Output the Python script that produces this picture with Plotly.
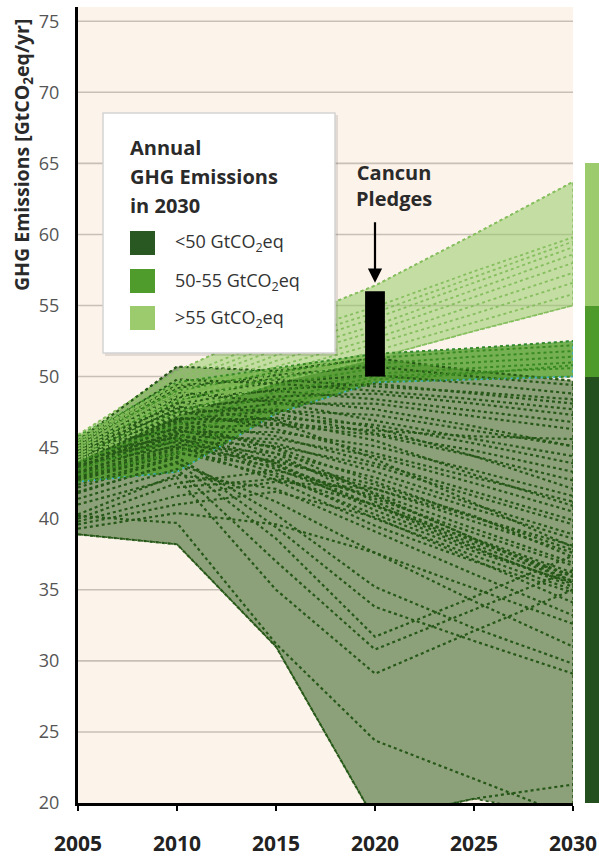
import numpy as np
import plotly.graph_objects as go

# ---------------------------------------------------------------------------
# Data
# ---------------------------------------------------------------------------
YEARS = [2005, 2010, 2015, 2020, 2025, 2030]

# Scenario pathways (GtCO2eq/yr), grouped by their emission level in 2030
LOW_SCENARIOS = [      # < 50 GtCO2eq in 2030
    [45.5, 50.7, 50.4, 51.3, 50.4, 49.7],
    [45.3, 49.2, 50.1, 50.7, 50.0, 49.4],
    [45.1, 48.6, 49.6, 50.1, 49.5, 48.8],
    [44.9, 48.1, 49.1, 49.5, 48.8, 48.1],
    [44.7, 47.7, 48.6, 48.8, 48.1, 47.3],
    [44.5, 47.3, 48.1, 48.1, 47.2, 46.3],
    [44.3, 47.0, 47.6, 47.3, 46.2, 45.1],
    [44.1, 46.7, 47.1, 46.6, 45.3, 43.9],
    [43.9, 46.4, 46.6, 45.9, 44.4, 42.7],
    [43.7, 46.1, 46.1, 45.1, 43.4, 41.6],
    [43.5, 45.8, 45.6, 44.4, 42.5, 40.5],
    [43.3, 45.5, 45.1, 43.7, 41.6, 39.6],
    [43.1, 45.2, 44.6, 42.9, 40.7, 38.6],
    [42.9, 44.9, 44.1, 42.1, 39.8, 37.6],
    [42.7, 44.6, 43.7, 41.4, 39.0, 36.7],
    [45.0, 46.3, 44.6, 41.2, 38.4, 35.9],
    [44.6, 45.7, 43.8, 40.6, 37.9, 35.4],
    [44.2, 45.4, 43.2, 40.0, 37.4, 35.0],
    [43.8, 45.1, 42.7, 39.5, 37.0, 34.8],
    [45.2, 47.9, 46.9, 44.2, 41.1, 38.0],
    [45.0, 47.5, 47.7, 46.4, 44.4, 42.1],
    [44.8, 47.0, 47.0, 45.5, 43.1, 40.9],
    [44.4, 47.8, 48.4, 47.7, 46.5, 45.1],
    [43.6, 46.2, 45.3, 43.3, 41.0, 38.9],
    [43.0, 45.0, 44.0, 42.4, 40.2, 37.3],
    [44.0, 48.5, 49.0, 48.4, 47.6, 46.8],
    [45.4, 49.8, 49.5, 49.0, 48.4, 47.7],
    [45.1, 48.9, 48.2, 46.9, 45.6, 44.4],
    [44.8, 48.2, 47.4, 46.0, 44.8, 43.3],
    [44.6, 47.6, 46.3, 44.6, 42.9, 41.2],
    [44.2, 46.9, 45.8, 43.9, 41.9, 39.9],
    [43.9, 46.5, 45.0, 42.6, 40.1, 37.8],
    [43.5, 45.9, 44.3, 41.8, 39.3, 36.9],
    [43.2, 45.6, 43.5, 40.9, 38.5, 36.0],
    [44.3, 46.8, 44.9, 41.7, 38.6, 35.6],
    [44.0, 46.0, 43.9, 40.9, 38.0, 35.2],
    [42.8, 44.7, 43.0, 40.3, 37.7, 35.5],
    [45.2, 49.4, 49.8, 49.3, 48.9, 48.4],
    [44.7, 47.1, 46.7, 46.2, 45.8, 45.6],
    [39.8, 41.6, 42.6, 42.1, 40.1, 38.1],
    [40.0, 42.5, 43.4, 41.6, 38.6, 36.2],
    [39.6, 41.0, 41.9, 40.1, 37.1, 34.1],
    [40.3, 43.1, 42.1, 39.1, 36.1, 33.2],
    [39.3, 40.4, 39.6, 37.6, 35.1, 32.6],
    [38.9, 38.2, 31.0, 18.8, 20.3, 21.3],
    [40.2, 39.7, 31.2, 24.4, 21.7, 19.0],
    [41.0, 42.9, 35.0, 29.1, 32.1, 35.0],
    [41.4, 43.5, 37.0, 30.8, 33.6, 36.4],
    [41.8, 44.0, 38.6, 31.7, 34.5, 37.4],
    [42.2, 44.3, 40.3, 35.2, 32.3, 29.8],
    [41.9, 43.9, 41.2, 37.6, 34.2, 31.0],
    [42.4, 44.4, 39.4, 33.8, 31.4, 29.1],
    [None, 42.2, 42.8, 41.0, 38.2, 35.6],
]

MID_SCENARIOS = [      # 50-55 GtCO2eq in 2030
    [45.8, 49.6, 50.6, 51.6, 52.0, 52.5],
    [45.4, 49.0, 50.3, 51.3, 51.8, 52.2],
    [45.0, 48.3, 49.9, 50.9, 51.4, 51.8],
    [44.5, 47.5, 49.4, 50.6, 51.0, 51.4],
    [44.0, 46.6, 48.9, 50.2, 50.6, 51.0],
    [43.5, 45.6, 48.4, 50.0, 50.3, 50.6],
    [42.6, 43.3, 47.4, 49.6, 49.8, 50.0],
    [43.1, 44.6, 47.9, 49.8, 50.2, 50.8],
]

HIGH_SCENARIOS = [     # > 55 GtCO2eq in 2030
    [45.9, 50.4, 53.6, 56.4, 60.0, 63.7],
    [45.7, 49.9, 52.7, 54.9, 57.4, 59.8],
    [45.5, 49.6, 52.3, 54.5, 57.0, 59.5],
    [45.3, 49.3, 51.9, 54.1, 56.6, 59.1],
    [45.1, 48.9, 51.5, 53.6, 56.1, 58.6],
    [44.9, 48.6, 51.1, 53.2, 55.6, 58.0],
    [44.7, 48.3, 50.7, 52.7, 55.0, 57.3],
    [44.5, 47.9, 50.3, 52.3, 54.4, 56.6],
    [44.3, 47.6, 49.9, 51.8, 53.8, 55.8],
    [44.1, 47.3, 49.6, 51.3, 53.2, 55.0],
]

# Cancun pledges range for 2020
CANCUN_YEAR = 2020
CANCUN_RANGE = [50.0, 56.0]

# 2030 range bar on the right-hand side (lower, upper bounds per class)
BAND_LOW = [19.2, 50.0, 55.0]
BAND_HIGH = [50.0, 55.0, 65.0]

LEGEND_TITLE = ["Annual", "GHG Emissions", "in 2030"]
BAND_LABELS = ["&lt;50 GtCO<sub>2</sub>eq",
               "50-55 GtCO<sub>2</sub>eq",
               "&gt;55 GtCO<sub>2</sub>eq"]

Y_TICKS = [20, 25, 30, 35, 40, 45, 50, 55, 60, 65, 70, 75]
X_TICKS = [2005, 2010, 2015, 2020, 2025, 2030]

# ---------------------------------------------------------------------------
# Styling
# ---------------------------------------------------------------------------
FONT = "Open Sans"
PEACH = "#FCF3EA"
GRID = "#C8BFB7"

GROUPS = [
    dict(data=LOW_SCENARIOS, fill="#8CA07A", line="#265817", edge="#265817"),
    dict(data=MID_SCENARIOS, fill="rgba(78,158,40,0.78)", line="#3A8A22",
         edge="#3BB2D2"),
    dict(data=HIGH_SCENARIOS, fill="rgba(150,202,104,0.55)", line="#86BF5E",
         edge="#86BF5E"),
]
SWATCH = ["#2A5822", "#4F9C2C", "#9CCB6E"]
BAR = ["#24501F", "#4E9A2A", "#9CCB6E"]

W, H = 599, 858
M_L, M_R, M_T, M_B = 78, 0, 7, 55
PW = W - M_L - M_R
PH = H - M_T - M_B
X_DOMAIN_END = 495 / PW
BAR_DOMAIN = [507 / PW, 1.0]


def px_x(px):
    """Horizontal pixel -> paper coordinate (for overlay decorations)."""
    return (px - M_L) / PW


def px_y(py):
    """Vertical pixel -> paper coordinate (for overlay decorations)."""
    return (H - M_B - py) / PH


fig = go.Figure()

# Envelopes (filled ranges of each class)
for g in GROUPS:
    arr = np.array([[np.nan if v is None else v for v in s] for s in g["data"]])
    hi = np.nanmax(arr, axis=0)
    lo = np.nanmin(arr, axis=0)
    fig.add_trace(go.Scatter(
        x=YEARS + YEARS[::-1],
        y=list(hi) + list(lo[::-1]),
        fill="toself", fillcolor=g["fill"], mode="lines",
        line=dict(color=g["edge"], width=1.6, dash="dot"),
        hoverinfo="skip", showlegend=False,
    ))

# Individual scenario pathways
for g, w in zip(GROUPS, [2.2, 2.0, 1.8]):
    for s in g["data"]:
        fig.add_trace(go.Scatter(
            x=YEARS, y=s, mode="lines",
            line=dict(color=g["line"], width=w, dash="dot"),
            hoverinfo="skip", showlegend=False,
        ))

# 2030 range bar
fig.add_trace(go.Bar(
    x=[0, 0, 0], base=BAND_LOW,
    y=[h - l for h, l in zip(BAND_HIGH, BAND_LOW)],
    marker=dict(color=BAR, line=dict(width=0)), width=1,
    xaxis="x2", yaxis="y", cliponaxis=False,
    hoverinfo="skip", showlegend=False,
))

shapes = []
# plot background
shapes.append(dict(type="rect", xref="x domain", yref="y domain",
                   x0=0, x1=1, y0=0, y1=1, fillcolor=PEACH,
                   line=dict(width=0), layer="below"))
# horizontal grid
for v in Y_TICKS[1:]:
    shapes.append(dict(type="line", xref="x domain", yref="y",
                       x0=0, x1=1, y0=v, y1=v,
                       line=dict(color=GRID, width=1.6), layer="below"))
# Cancun pledges bar
shapes.append(dict(type="rect", xref="x", yref="y",
                   x0=CANCUN_YEAR - 0.5, x1=CANCUN_YEAR + 0.5,
                   y0=CANCUN_RANGE[0], y1=CANCUN_RANGE[1],
                   fillcolor="black", line=dict(width=0), layer="above"))
# legend box (shadow + box)
shapes.append(dict(type="rect", xref="paper", yref="paper",
                   x0=px_x(105), x1=px_x(338), y0=px_y(356), y1=px_y(115),
                   fillcolor="rgba(0,0,0,0.10)", line=dict(width=0),
                   layer="above"))
shapes.append(dict(type="rect", xref="paper", yref="paper",
                   x0=px_x(103), x1=px_x(335), y0=px_y(353), y1=px_y(113),
                   fillcolor="white", line=dict(color="#D4D4D4", width=1.5),
                   layer="above"))
# legend swatches
row_y = [243, 281, 318]
for c, ry in zip(SWATCH, row_y):
    shapes.append(dict(type="rect", xref="paper", yref="paper",
                       x0=px_x(130), x1=px_x(155),
                       y0=px_y(ry + 12), y1=px_y(ry - 12),
                       fillcolor=c, line=dict(width=0), layer="above"))

annotations = []
for txt, ly in zip(LEGEND_TITLE, [147, 176, 205]):
    annotations.append(dict(text=f"<b>{txt}</b>", xref="paper", yref="paper",
                            x=px_x(128), y=px_y(ly), xanchor="left",
                            yanchor="middle", showarrow=False,
                            font=dict(family=FONT, size=20, color="#2A2A2A")))
for txt, ry in zip(BAND_LABELS, row_y):
    annotations.append(dict(text=txt, xref="paper", yref="paper",
                            x=px_x(173), y=px_y(ry), xanchor="left",
                            yanchor="middle", showarrow=False,
                            font=dict(family=FONT, size=18, color="#333333")))
# y-axis title
annotations.append(dict(text="<b>GHG Emissions [GtCO<sub>2</sub>eq/yr]</b>",
                        xref="paper", yref="paper", x=px_x(22), y=px_y(155),
                        xanchor="center", yanchor="middle", textangle=-90,
                        showarrow=False,
                        font=dict(family=FONT, size=19.5, color="#2A2A2A")))
# Cancun label and arrow
annotations.append(dict(text="<b>Cancun<br>Pledges</b>", xref="x", yref="paper",
                        x=CANCUN_YEAR + 0.95, y=px_y(185), xanchor="center",
                        yanchor="middle", showarrow=False,
                        font=dict(family=FONT, size=20, color="#2A2A2A")))
annotations.append(dict(text="", xref="x", yref="y",
                        x=CANCUN_YEAR, y=CANCUN_RANGE[1] + 0.6,
                        ax=0, ay=-62, showarrow=True, arrowhead=2,
                        arrowsize=1.3, arrowwidth=2.2, arrowcolor="black"))

fig.update_layout(
    width=W, height=H,
    margin=dict(l=M_L, r=M_R, t=M_T, b=M_B, autoexpand=False),
    paper_bgcolor="white", plot_bgcolor="rgba(0,0,0,0)",
    barmode="overlay", bargap=0,
    shapes=shapes, annotations=annotations,
    xaxis=dict(domain=[0, X_DOMAIN_END], range=[2005, 2030],
               tickvals=X_TICKS, showgrid=False, zeroline=False,
               showline=True, linecolor="black", linewidth=2.5,
               ticks="outside", ticklen=5, tickwidth=2, tickcolor="black",
               ticklabelstandoff=15, automargin=False,
               tickfont=dict(family=FONT, size=21, color="#222222",
                             weight="bold")),
    yaxis=dict(range=[20, 76], tickvals=Y_TICKS, showgrid=False,
               zeroline=False, showline=True, linecolor="black", linewidth=3,
               ticks="", ticklabelstandoff=12, automargin=False,
               tickfont=dict(family=FONT, size=18, color="#555555")),
    xaxis2=dict(domain=BAR_DOMAIN, range=[-0.5, 0.5], anchor="y",
                visible=False, showgrid=False, zeroline=False,
                automargin=False),
)

fig.write_html("out.html")
